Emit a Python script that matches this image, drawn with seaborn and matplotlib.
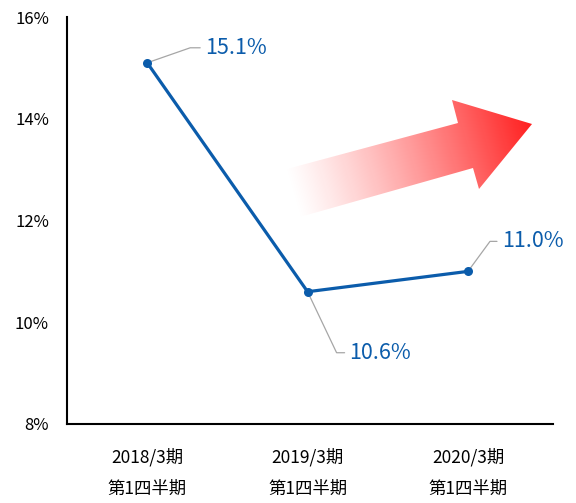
import numpy as np
import pandas as pd
import matplotlib
matplotlib.use("Agg")
import matplotlib.pyplot as plt
import matplotlib.transforms as mtransforms
from matplotlib.patches import Polygon
import seaborn as sns

# data
periods = ["2018/3期\n第1四半期", "2019/3期\n第1四半期", "2020/3期\n第1四半期"]
rates = [15.1, 10.6, 11.0]
rate_labels = ["15.1%", "10.6%", "11.0%"]
y_ticks = [8, 10, 12, 14, 16]

sns.set_theme(style="white")
plt.rcParams['font.family'] = ['Noto Sans CJK JP', 'DejaVu Sans']

line_color = "#0B5CAB"
W, H = 576, 503
fig = plt.figure(figsize=(W / 100, H / 100), dpi=100)
ax = fig.add_axes([67 / W, 1 - 424 / H, (553 - 67) / W, (424 - 17) / H])

df = pd.DataFrame({"period": periods, "rate": rates})
sns.lineplot(data=df, x="period", y="rate", ax=ax, color=line_color,
             linewidth=2.3, marker="o", markersize=6.5, markeredgewidth=0,
             sort=False)

ax.set_xlim(-0.5, 2.53)
ax.set_ylim(8, 16)
ax.set_yticks(y_ticks)
ax.set_yticklabels([f"{t}%" for t in y_ticks], fontsize=12, color="black")
ax.set_xlabel("")
ax.set_ylabel("")
ax.tick_params(axis="both", length=0)
ax.tick_params(axis="y", pad=13)
ax.tick_params(axis="x", pad=17)
for lbl in ax.get_xticklabels():
    lbl.set_fontsize(12.5)
    lbl.set_linespacing(1.95)
    lbl.set_color("black")
    lbl.set_verticalalignment("top")
for side in ["top", "right"]:
    ax.spines[side].set_visible(False)
for side in ["left", "bottom"]:
    ax.spines[side].set_color("black")
    ax.spines[side].set_linewidth(1.5)

# data labels with leader lines (offsets in pixels)
leaders = [((43, 15), (53, 15)), ((29, -61), (37, -61)), ((22, 30), (29, 30))]
inv = ax.transData.inverted()
for i, (val, txt) in enumerate(zip(rates, rate_labels)):
    (ex, ey), (hx, hy) = leaders[i]
    base = ax.transData.transform((i, val))
    disp = [base, base + np.array([ex, ey]), base + np.array([hx, hy])]
    data_pts = np.array([inv.transform(d) for d in disp])
    ax.plot(data_pts[:, 0], data_pts[:, 1], color="#A6A6A6", linewidth=0.9,
            zorder=1, clip_on=False)
    ttrans = mtransforms.offset_copy(ax.transData, fig=fig, x=hx + 5, y=hy, units="dots")
    ax.text(i, val, txt, transform=ttrans, color=line_color, fontsize=15.5,
            ha="left", va="center")

# decorative gradient arrow (figure pixel coords)
ov = fig.add_axes([0, 0, 1, 1], zorder=0)
ov.set_xlim(0, W)
ov.set_ylim(H, 0)
ov.axis("off")
ov.patch.set_alpha(0)
arrow = np.array([(283, 170), (458, 123), (452, 100), (532, 124),
                  (479, 189), (473, 168), (300, 217)])
gx, gy = np.meshgrid(np.linspace(270, 540, 300), np.linspace(90, 230, 160))
d = np.array([532 - 291, 124 - 194], dtype=float)
d /= np.linalg.norm(d)
proj = (gx - 291) * d[0] + (gy - 194) * d[1]
a = np.clip(proj / proj.max(), 0, 1)
img = np.zeros(gx.shape + (4,))
img[..., 0] = 1.0
img[..., 1] = 0.05
img[..., 2] = 0.05
img[..., 3] = a ** 1.2
im = ov.imshow(img, extent=(270, 540, 230, 90), interpolation="bilinear")
poly = Polygon(arrow, closed=True, facecolor="none", edgecolor="none",
               transform=ov.transData)
ov.add_patch(poly)
im.set_clip_path(poly)
ax.set_zorder(1)
ax.patch.set_alpha(0)

fig.savefig("out.png", dpi=100)
